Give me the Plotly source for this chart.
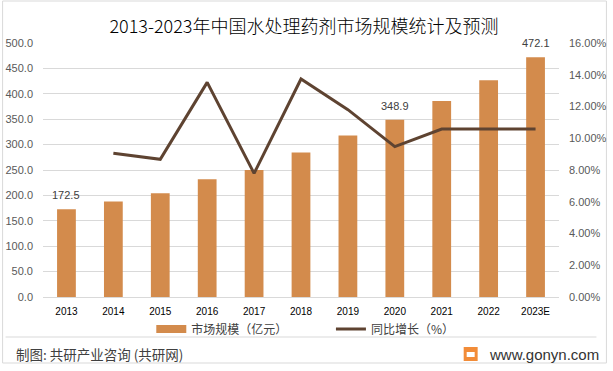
import plotly.graph_objects as go

years = ["2013", "2014", "2015", "2016", "2017", "2018", "2019", "2020", "2021", "2022", "2023E"]
market_size = [172.5, 188.1, 204.3, 232.0, 250.1, 284.4, 318.1, 348.9, 385.8, 426.6, 472.1]
growth_pct = [None, 9.05, 8.67, 13.52, 7.79, 13.73, 11.80, 9.47, 10.58, 10.58, 10.58]
labeled_years = ["2013", "2020", "2023E"]

title_text = "2013-2023年中国水处理药剂市场规模统计及预测"
bar_name = "市场规模（亿元）"
line_name = "同比增长（%）"
source_text = "制图: 共研产业咨询 (共研网)"
site_text = "www.gonyn.com"

BAR_COLOR = "#D38B4C"
LINE_COLOR = "#5E4331"
GRID = "#D9D9D9"
CJK = "Noto Sans CJK SC"
NUM = "Liberation Sans"

W, H = 613, 371
ML, MR, MT, MB = 42.5, 53.5, 43, 74
PW, PH = W - ML - MR, H - MT - MB


def px(x):
    return (x - ML) / PW


def py(y):
    return (H - MB - y) / PH


fig = go.Figure()
fig.add_trace(go.Bar(x=years, y=market_size, marker_color=BAR_COLOR, marker_line_width=0,
                     width=0.4, name=bar_name, showlegend=False))
fig.add_trace(go.Scatter(x=years, y=growth_pct, yaxis="y2", mode="lines",
                         line=dict(color=LINE_COLOR, width=3), name=line_name,
                         legend="legend2"))
# legend proxy for the bar series (wide flat swatch as in the reference)
fig.add_trace(go.Scatter(x=[years[0]], y=[None], mode="lines",
                         line=dict(color=BAR_COLOR, width=8), name=bar_name,
                         legend="legend"))

annotations = []
for i, (yr, v) in enumerate(zip(years, market_size)):
    if yr in labeled_years:
        annotations.append(dict(x=i, y=v, xref="x", yref="y", text=f"{v:.1f}",
                                showarrow=False, yanchor="bottom", yshift=6,
                                font=dict(family=NUM, size=11, color="#404040")))

annotations.append(dict(xref="paper", yref="paper", x=px(13), y=py(354),
                        xanchor="left", yanchor="middle", text=source_text,
                        showarrow=False, font=dict(family=CJK, size=13.5, color="#404040")))
annotations.append(dict(xref="paper", yref="paper", x=px(487), y=py(354),
                        xanchor="left", yanchor="middle", text=site_text,
                        showarrow=False, font=dict(family=NUM, size=15, color="#333333")))

shapes = [
    dict(type="rect", xref="paper", yref="paper", x0=px(2), x1=px(607), y0=py(363), y1=py(1),
         line=dict(color=GRID, width=1), fillcolor="rgba(0,0,0,0)", layer="below"),
    dict(type="line", xref="paper", yref="paper", x0=px(5), x1=px(597), y0=py(337), y1=py(337),
         line=dict(color=GRID, width=1)),
    dict(type="rect", xref="paper", yref="paper", x0=px(464), x1=px(478), y0=py(361), y1=py(347),
         line=dict(width=0), fillcolor="#F28C38"),
    dict(type="rect", xref="paper", yref="paper", x0=px(467), x1=px(475), y0=py(357), y1=py(352),
         line=dict(width=0), fillcolor="#FFFFFF"),
]

fig.update_layout(
    width=W, height=H,
    margin=dict(l=ML, r=MR, t=MT, b=MB, pad=0, autoexpand=False),
    paper_bgcolor="white", plot_bgcolor="white",
    title=dict(text=title_text, x=304 / W, xanchor="center", xref="container",
               y=1 - 27 / H, yanchor="middle", yref="container",
               font=dict(family=CJK, size=18, color="#000000", weight=300)),
    xaxis=dict(type="category", categoryorder="array", categoryarray=years, automargin=False,
               range=[-0.5, len(years) - 0.5], showgrid=False, showline=False, ticks="",
               tickfont=dict(family=NUM, size=10, color="#000000"), ticklabelstandoff=7),
    yaxis=dict(range=[0, 500], dtick=50, tickformat=".1f", showgrid=True, gridcolor=GRID,
               gridwidth=1, zeroline=True, zerolinecolor=GRID, zerolinewidth=1, automargin=False,
               showline=False, ticks="", ticklabelstandoff=9,
               tickfont=dict(family=NUM, size=11, color="#595959")),
    yaxis2=dict(range=[0, 16], dtick=2, tickformat=".2f", ticksuffix="%", overlaying="y",
                side="right", showgrid=False, zeroline=False, showline=False, ticks="",
                automargin=False, ticklabelstandoff=9,
                tickfont=dict(family=NUM, size=11, color="#595959")),
    legend=dict(orientation="h", x=px(151), y=py(329), xanchor="left", yanchor="middle",
                xref="paper", yref="paper", bgcolor="rgba(0,0,0,0)",
                font=dict(family=CJK, size=12, color="#404040")),
    legend2=dict(orientation="h", x=px(331), y=py(329), xanchor="left", yanchor="middle",
                 xref="paper", yref="paper", bgcolor="rgba(0,0,0,0)",
                 font=dict(family=CJK, size=12, color="#404040")),
    annotations=annotations,
    shapes=shapes,
)

fig.write_html("out.html", config={"displayModeBar": False},
               post_script="document.body.style.margin='0';document.body.style.padding='0';")
